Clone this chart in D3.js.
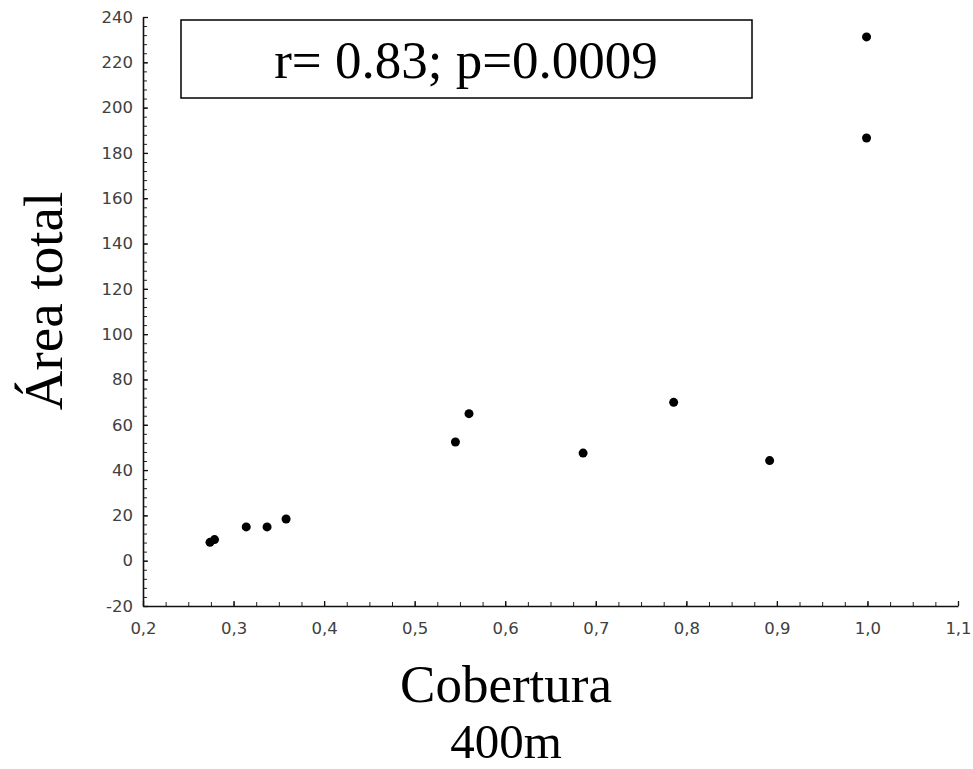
<!DOCTYPE html>
<html>
<head>
<meta charset="utf-8">
<script src="https://cdn.jsdelivr.net/npm/d3@7"></script>
<style>
  html, body { margin: 0; padding: 0; background: #fff; }
  svg { display: block; }
</style>
</head>
<body>
<svg id="chart" width="973" height="769"></svg>
<script>
// Data
const cobertura = [0.274, 0.279, 0.314, 0.337, 0.358, 0.545, 0.560, 0.686, 0.786, 0.892, 0.999, 0.999];
const areaTotal = [8.1, 9.3, 14.9, 14.9, 18.4, 52.4, 64.9, 47.5, 69.9, 44.2, 231.2, 186.6];
const xTicks = [0.2, 0.3, 0.4, 0.5, 0.6, 0.7, 0.8, 0.9, 1.0, 1.1];
const yTicks = [-20, 0, 20, 40, 60, 80, 100, 120, 140, 160, 180, 200, 220, 240];
const annotation = "r= 0.83; p=0.0009";
const xTitleLines = ["Cobertura", "400m"];
const yTitle = "Área total";

const svg = d3.select("#chart");

const x = d3.scaleLinear().domain([0.2, 1.1]).range([143, 958]);
const y = d3.scaleLinear().domain([-20, 240]).range([606, 17]);

const fmtX = d => d3.format(".1f")(d).replace(".", ",");
const fmtY = d => String(d);

// minor ticks
const xMinor = d3.range(0, 37).map(i => 0.2 + i * 0.025).filter(v => v <= 1.1001);
const yMinor = d3.range(0, 66).map(i => -20 + i * 4).filter(v => v <= 240);

svg.append("g")
  .attr("transform", `translate(0,${y(-20)})`)
  .call(d3.axisBottom(x).tickValues(xMinor).tickFormat("").tickSizeInner(-4).tickSizeOuter(0))
  .call(g => g.select(".domain").remove())
  .call(g => g.selectAll("line").attr("stroke", "#222"));

svg.append("g")
  .attr("transform", `translate(${x(0.2)},0)`)
  .call(d3.axisLeft(y).tickValues(yMinor).tickFormat("").tickSizeInner(-4).tickSizeOuter(0))
  .call(g => g.select(".domain").remove())
  .call(g => g.selectAll("line").attr("stroke", "#222"));

const tickFont = "'DejaVu Sans', Verdana, sans-serif";

// major axes
const xAxis = svg.append("g")
  .attr("transform", `translate(0,${y(-20)})`)
  .call(d3.axisBottom(x).tickValues(xTicks).tickFormat(fmtX).tickSizeInner(-5).tickSizeOuter(0).tickPadding(16));
xAxis.select(".domain").attr("stroke", "#111").attr("stroke-width", 1.6);
xAxis.selectAll("line").attr("stroke", "#111").attr("stroke-width", 1.3);
xAxis.selectAll("text")
  .attr("font-family", tickFont)
  .attr("font-size", 16.5)
  .attr("fill", "#404040");

const yAxis = svg.append("g")
  .attr("transform", `translate(${x(0.2)},0)`)
  .call(d3.axisLeft(y).tickValues(yTicks).tickFormat(fmtY).tickSizeInner(-5).tickSizeOuter(0).tickPadding(10));
yAxis.select(".domain").attr("stroke", "#111").attr("stroke-width", 1.6);
yAxis.selectAll("line").attr("stroke", "#111").attr("stroke-width", 1.3);
yAxis.selectAll("text")
  .attr("font-family", tickFont)
  .attr("font-size", 16.5)
  .attr("fill", "#404040");

// points
svg.append("g")
  .selectAll("circle")
  .data(cobertura.map((c, i) => ({ c, a: areaTotal[i] })))
  .join("circle")
  .attr("cx", d => x(d.c))
  .attr("cy", d => y(d.a))
  .attr("r", 4.5)
  .attr("fill", "#000");

// annotation box
svg.append("rect")
  .attr("x", 181).attr("y", 20).attr("width", 571).attr("height", 78)
  .attr("fill", "#fff").attr("stroke", "#000").attr("stroke-width", 1.5);
svg.append("text")
  .attr("x", 466).attr("y", 78)
  .attr("text-anchor", "middle")
  .attr("font-family", "'Liberation Serif', 'Times New Roman', serif")
  .attr("font-size", 53)
  .attr("fill", "#000")
  .text(annotation);

// axis titles
const serif = "'Liberation Serif', 'Times New Roman', serif";
svg.append("g")
  .selectAll("text")
  .data(xTitleLines)
  .join("text")
  .attr("x", 506)
  .attr("y", (d, i) => i === 0 ? 702 : 758)
  .attr("text-anchor", "middle")
  .attr("font-family", serif)
  .attr("font-size", (d, i) => i === 0 ? 53 : 49)
  .attr("fill", "#000")
  .text(d => d);

svg.append("text")
  .attr("transform", "translate(62,301) rotate(-90)")
  .attr("text-anchor", "middle")
  .attr("font-family", serif)
  .attr("font-size", 55)
  .attr("fill", "#000")
  .text(yTitle);
</script>
</body>
</html>
